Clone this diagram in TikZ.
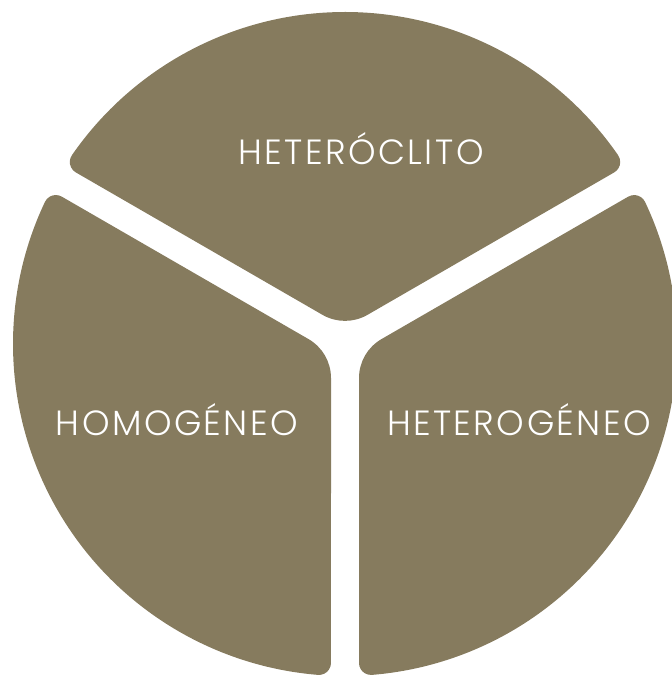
\documentclass[tikz,border=0pt]{standalone}
\usepackage{fontspec}
\setmainfont{Poppins}[UprightFont={* Light}, LetterSpace=7]
\definecolor{olive}{RGB}{134,123,94}
\begin{document}
\begin{tikzpicture}[x=1pt,y=1pt,
  sector/.style={fill=olive, draw=none},
  lbl/.style={text=white, font=\fontsize{35}{36}\selectfont, inner sep=0pt, anchor=base}]
\useasboundingbox (0,0) rectangle (672,675);
\pgfmathsetmacro{\Rb}{332}
\pgfmathsetmacro{\wg}{14}
\pgfmathsetmacro{\rs}{12}
\pgfmathsetmacro{\rj}{45}
\pgfmathsetmacro{\ss}{10*sqrt(((\Rb-\rs)/10)^2-((\wg+\rs)/10)^2)}
\pgfmathsetmacro{\ph}{30+atan((\wg+\rs)/\ss)}
\pgfmathsetmacro{\ax}{\rj/tan(60)*cos(30)}
\pgfmathsetmacro{\ay}{\wg/cos(30)+\rj/tan(60)*sin(30)}
\pgfmathsetmacro{\tx}{\ss*cos(30)-\wg*sin(30)}
\pgfmathsetmacro{\ty}{\ss*sin(30)+\wg*cos(30)}
\foreach \a in {0,120,240}{
  \begin{scope}[shift={(345,331)}, rotate=\a]
    \fill[sector] (-\ax,\ay) arc[start angle=-120, end angle=-60, radius=\rj]
      -- (\tx,\ty) arc[start angle=-60, end angle=\ph, radius=\rs]
      arc[start angle=\ph, end angle=180-\ph, radius=\Rb]
      arc[start angle=180-\ph, end angle=240, radius=\rs] -- cycle;
  \end{scope}
}
\node[lbl] (t1) at (361,510) {HETERÓCLITO};
\node[lbl] (t2) at (177,239) {HOMOGÉNEO};
\node[lbl] (t3) at (519,239) {HETEROGÉNEO};
\end{tikzpicture}
\end{document}
